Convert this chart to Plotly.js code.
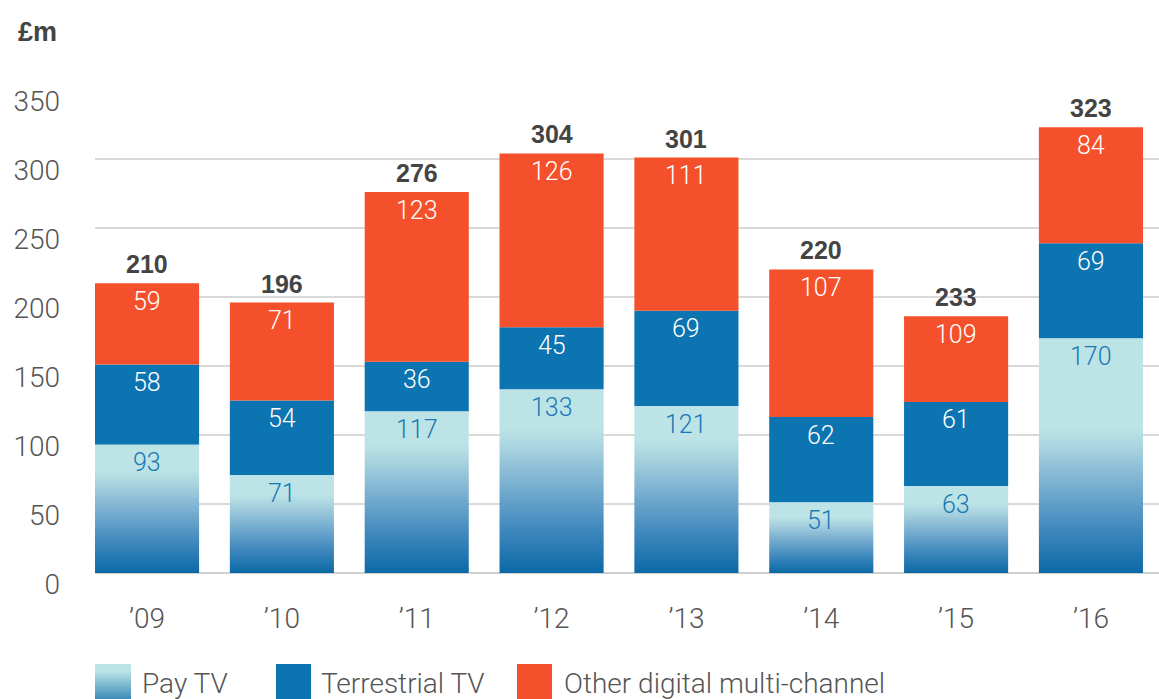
<!DOCTYPE html>
<html>
<head>
<meta charset="utf-8">
<script src="https://cdn.plot.ly/plotly-3.0.1.min.js"></script>
<style>
html, body { margin: 0; padding: 0; background: #ffffff; }
#chart { width: 1159px; height: 699px; }
</style>
</head>
<body>
<div id="chart"></div>
<script>
// ---- data ----
const years = ["\u201909", "\u201910", "\u201911", "\u201912", "\u201913", "\u201914", "\u201915", "\u201916"];
const payTV = [93, 71, 117, 133, 121, 51, 63, 170];
const terrestrial = [58, 54, 36, 45, 69, 62, 61, 69];
const otherDigital = [59, 71, 123, 126, 111, 107, 109, 84];          // printed labels
const otherDigitalDrawn = [59, 71, 123, 126, 111, 107, 62, 84];     // bar heights as drawn in the source ('15 drawn short)
const totals = [210, 196, 276, 304, 301, 220, 233, 323];
const yTicks = [0, 50, 100, 150, 200, 250, 300, 350];
const seriesNames = ["Pay TV", "Terrestrial TV", "Other digital multi-channel"];

// ---- styles ----
const COL_TERR = "#0c74b0";
const COL_OTHER = "#f4502b";
const COL_PAY_LIGHT = "#bce4e6";
const COL_PAY_DARK = "#0b69a6";
const PAY_SCALE = [[0, COL_PAY_DARK], [0.3, "#3f88bd"], [0.6, "#78aed0"], [0.85, "#a6d1de"], [1, COL_PAY_LIGHT]];
const LIGHT = "Roboto, 'Liberation Sans', sans-serif";
const BOLD = "'Liberation Sans', Arial, sans-serif";
const BAR_W = 0.772;

const M = { l: 95, r: 0, t: 90, b: 126 };
const W = 1159, H = 699;
const PW = W - M.l - M.r, PH = H - M.t - M.b;
const px = v => (v - M.l) / PW;
const py = v => (H - M.b - v) / PH;

const xs = years.map((_, i) => i);
const terrBase = payTV.slice();
const otherBase = payTV.map((v, i) => v + terrestrial[i]);
const tops = otherBase.map((v, i) => v + otherDigitalDrawn[i]);

const traces = [];
// Pay TV: gradient-filled rectangles (one per year) through scatter fillgradient
xs.forEach((x, i) => {
  const v = payTV[i];
  traces.push({
    type: "scatter",
    mode: "lines",
    x: [x - BAR_W / 2, x + BAR_W / 2, x + BAR_W / 2, x - BAR_W / 2, x - BAR_W / 2],
    y: [0, 0, v, v, 0],
    fill: "toself",
    line: { width: 0, color: "rgba(0,0,0,0)" },
    fillcolor: COL_PAY_LIGHT,
    fillgradient: { type: "vertical", colorscale: PAY_SCALE, start: 0, stop: Math.min(0.8 * v, 105) },
    name: seriesNames[0],
    showlegend: false,
    hoverinfo: "skip"
  });
});
traces.push({
  type: "bar", x: xs, y: terrestrial, base: terrBase, width: BAR_W,
  marker: { color: COL_TERR, line: { width: 0 } }, name: seriesNames[1], showlegend: false
});
traces.push({
  type: "bar", x: xs, y: otherDigitalDrawn, base: otherBase, width: BAR_W,
  marker: { color: COL_OTHER, line: { width: 0 } }, name: seriesNames[2], showlegend: false
});

const annotations = [];
xs.forEach((x, i) => {
  annotations.push({ x: x, y: payTV[i], xref: "x", yref: "y", text: String(payTV[i]), showarrow: false,
    yanchor: "middle", yshift: -18, font: { family: LIGHT, size: 25, color: "#1a78b5", weight: 300 } });
  annotations.push({ x: x, y: otherBase[i], xref: "x", yref: "y", text: String(terrestrial[i]), showarrow: false,
    yanchor: "middle", yshift: -18, font: { family: LIGHT, size: 25, color: "#ffffff", weight: 300 } });
  annotations.push({ x: x, y: tops[i], xref: "x", yref: "y", text: String(otherDigital[i]), showarrow: false,
    yanchor: "middle", yshift: -18, font: { family: LIGHT, size: 25, color: "#ffffff", weight: 300 } });
  annotations.push({ x: x, y: tops[i], xref: "x", yref: "y", text: "<b>" + totals[i] + "</b>", showarrow: false,
    yanchor: "bottom", yshift: 3, font: { family: BOLD, size: 25, color: "#444444" } });
});
// unit label
annotations.push({ x: px(16), y: py(32), xref: "paper", yref: "paper", text: "<b>\u00a3m</b>", showarrow: false,
  xanchor: "left", yanchor: "middle", font: { family: BOLD, size: 27, color: "#444444" } });

// custom legend
const legendItems = [
  { sw: 95, tx: 140, name: seriesNames[0] },
  { sw: 276, tx: 319, name: seriesNames[1], color: COL_TERR },
  { sw: 517, tx: 562, name: seriesNames[2], color: COL_OTHER }
];
const shapes = [];
const images = [];
const svgGrad = "<svg xmlns='http://www.w3.org/2000/svg' width='36' height='46' viewBox='0 0 36 46' preserveAspectRatio='none'>" +
  "<defs><linearGradient id='g' x1='0' y1='0' x2='0' y2='1'><stop offset='0' stop-color='" + COL_PAY_LIGHT + "'/>" +
  "<stop offset='0.15' stop-color='" + COL_PAY_LIGHT + "'/><stop offset='1' stop-color='" + COL_PAY_DARK + "'/></linearGradient></defs>" +
  "<rect x='0' y='0' width='36' height='46' fill='url(#g)'/></svg>";
legendItems.forEach(it => {
  if (it.color) {
    shapes.push({ type: "rect", xref: "paper", yref: "paper", x0: px(it.sw), x1: px(it.sw + 35), y0: py(664), y1: py(712),
      fillcolor: it.color, line: { width: 0 }, layer: "above" });
  } else {
    images.push({ source: "data:image/svg+xml;charset=utf-8," + encodeURIComponent(svgGrad), xref: "paper", yref: "paper",
      x: px(it.sw), y: py(664), sizex: 36 / PW, sizey: 46 / PH, sizing: "stretch", xanchor: "left", yanchor: "top", layer: "above" });
  }
  annotations.push({ x: px(it.tx), y: py(684), xref: "paper", yref: "paper", text: it.name, showarrow: false,
    xanchor: "left", yanchor: "middle", font: { family: LIGHT, size: 28, color: "#555555", weight: 300 } });
});

const layout = {
  width: W, height: H,
  margin: M,
  paper_bgcolor: "#ffffff", plot_bgcolor: "#ffffff",
  showlegend: false,
  hovermode: false,
  barmode: "overlay",
  xaxis: {
    range: [-BAR_W / 2, 7 + BAR_W / 2 + 16 / 134.8],
    tickvals: xs, ticktext: years,
    showgrid: false, zeroline: false, showline: false, ticks: "",
    ticklabelstandoff: 26,
    tickfont: { family: LIGHT, size: 28, color: "#555555", weight: 300 },
    fixedrange: true
  },
  yaxis: {
    range: [0, 350],
    tickvals: yTicks,
    showgrid: true, gridcolor: "#d9d9d9", gridwidth: 2,
    zeroline: true, zerolinecolor: "#cfcfcf", zerolinewidth: 2,
    showline: false, ticks: "",
    ticklabelstandoff: 34, ticklabelshift: 11,
    tickfont: { family: LIGHT, size: 28, color: "#555555", weight: 300 },
    fixedrange: true
  },
  annotations: annotations,
  shapes: shapes,
  images: images
};

Plotly.newPlot("chart", traces, layout, { displayModeBar: false, staticPlot: true });
</script>
</body>
</html>
